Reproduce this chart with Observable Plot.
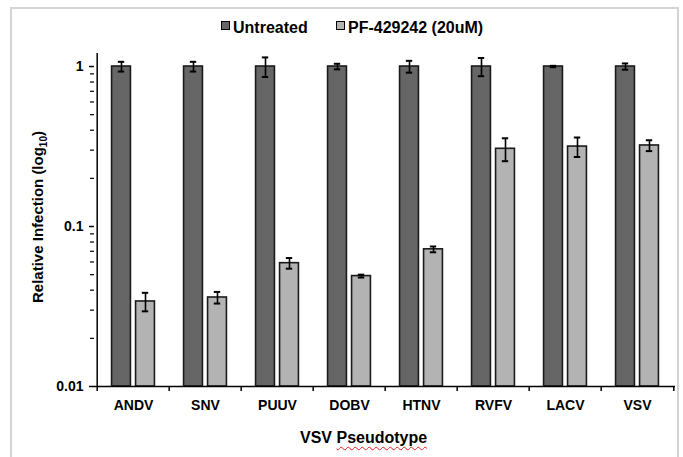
<!DOCTYPE html>
<html><head><meta charset="utf-8">
<script src="https://cdn.jsdelivr.net/npm/d3@7"></script>
<script src="https://cdn.jsdelivr.net/npm/@observablehq/plot@0.6"></script>
<style>
body{margin:0;background:#fff;font-family:"Liberation Sans",Arial,sans-serif;}
#wrap{position:relative;width:683px;height:457px;overflow:hidden;background:#fff;}
#frame{position:absolute;left:10px;top:7px;width:669px;height:480px;border:2px solid #d4d4d4;box-sizing:border-box;pointer-events:none;}
#legend{position:relative;height:44px;font-weight:bold;font-size:16px;color:#000;}
#legend .item{position:absolute;top:19px;display:flex;align-items:center;white-space:nowrap;line-height:18px;}
#legend .sw{width:7px;height:7px;border:1px solid #000;margin-right:3px;margin-top:-5px;}
#xlabel{position:relative;height:33px;font-weight:bold;font-size:16px;text-align:left;}
#xlabel span.t{position:absolute;left:300px;top:5px;white-space:nowrap;}
#xlabel span.w{text-decoration:underline wavy #e02020;text-decoration-thickness:1px;text-underline-offset:3px;}
svg{display:block;}
</style>
</head><body>
<div id="wrap">
<div id="legend"></div>
<div id="chart"></div>
<div id="xlabel"><span class="t">VSV <span class="w">Pseudotype</span></span></div>
<div id="frame"></div>
</div>
<script>
const categories = ["ANDV","SNV","PUUV","DOBV","HTNV","RVFV","LACV","VSV"];
const series = ["Untreated","PF-429242 (20uM)"];
const untreated = [1,1,1,1,1,1,1,1];
const untreatedErr = [0.07,0.07,0.14,0.04,0.085,0.13,0.01,0.045];
const treated = [0.034,0.036,0.059,0.049,0.072,0.306,0.316,0.321];
const treatedErr = [0.0045,0.003,0.0045,0.001,0.003,0.05,0.044,0.025];
const majorTicks = [0.01,0.1,1];
const seriesColors = ["#666666","#b3b3b3"];

const minorTicks = [];
for (const base of [0.01,0.1]) for (let k=2;k<=9;k++) minorTicks.push(+(base*k).toFixed(3));

const rows = [];
categories.forEach((c,i)=>{
  rows.push({cat:c, s:series[0], v:untreated[i], e:untreatedErr[i]});
  rows.push({cat:c, s:series[1], v:treated[i], e:treatedErr[i]});
});
const rowsU = rows.filter(d=>d.s===series[0]);
const rowsT = rows.filter(d=>d.s===series[1]);

const W=683, H=380, mL=94, mR=8, mT=9, mB=38;
const bw = (W-mL-mR)/categories.length;
const half = bw/2;
const off = 12, barW = 19.5;
const inner = half - off - barW/2; // distance from band edge to outer bar edge
const capHalf = 3.5;
const yBase = 0.01, yTop = 1.206;

// legend
const leg = document.getElementById("legend");
[[series[0],seriesColors[0],221],[series[1],seriesColors[1],336]].forEach(([t,c,x])=>{
  const it=document.createElement("div"); it.className="item"; it.style.left=x+"px";
  const sw=document.createElement("div"); sw.className="sw"; sw.style.background=c;
  const tx=document.createElement("span"); tx.textContent=t;
  it.appendChild(sw); it.appendChild(tx); leg.appendChild(it);
});

const barOpts = (dir)=>({
  x:"cat", y1:()=>yBase, y2:"v",
  fill: dir<0?seriesColors[0]:seriesColors[1],
  stroke:"#1a1a1a", strokeWidth:1.6,
  insetLeft: dir<0 ? inner : half+off-barW/2,
  insetRight: dir<0 ? half+off-barW/2 : inner
});
const errRule = (data,dir)=>Plot.ruleX(data,{x:"cat", y1:d=>d.v-d.e, y2:d=>d.v+d.e, dx:dir*off, stroke:"#000", strokeWidth:1.6});
const errCap = (data,dir,fn)=>Plot.tickY(data,{x:"cat", y:fn, dx:dir*off, insetLeft:half-capHalf, insetRight:half-capHalf, stroke:"#000", strokeWidth:2});

const plot = Plot.plot({
  width:W, height:H, marginLeft:mL, marginRight:mR, marginTop:mT, marginBottom:mB,
  style:{fontFamily:'"Liberation Sans",Arial,sans-serif', fontWeight:"bold", fontSize:"14px", color:"#000", background:"transparent"},
  x:{type:"band", domain:categories, padding:0},
  y:{type:"log", domain:[yBase,yTop]},
  marks:[
    Plot.barY(rowsU, barOpts(-1)),
    Plot.barY(rowsT, barOpts(1)),
    errRule(rowsU,-1), errRule(rowsT,1),
    errCap(rowsU,-1,d=>d.v+d.e), errCap(rowsU,-1,d=>d.v-d.e),
    errCap(rowsT,1,d=>d.v+d.e), errCap(rowsT,1,d=>d.v-d.e),
    Plot.ruleY([yBase],{stroke:"#000", strokeWidth:1.5}),
    Plot.ruleX([categories[0]],{x:d=>d, dx:-half, y1:()=>yBase, y2:()=>yTop, stroke:"#000", strokeWidth:1.5}),
    Plot.ruleX(categories,{x:d=>d, dx:-half, y1:()=>yBase, y2:()=>yBase, insetBottom:-5, stroke:"#000", strokeWidth:1.5}),
    Plot.ruleX([categories[categories.length-1]],{x:d=>d, dx:half, y1:()=>yBase, y2:()=>yBase, insetBottom:-5, stroke:"#000", strokeWidth:1.5}),
    Plot.axisY(majorTicks,{tickSize:5, tickPadding:6, tickFormat:d=>String(d), label:null, stroke:"#000", strokeWidth:1.5, fontSize:14, fontWeight:"bold"}),
    Plot.axisY(minorTicks,{tickSize:4, tickFormat:()=>"", label:null, stroke:"#000", strokeWidth:1.2}),
    Plot.axisX({tickSize:0, tickPadding:14, label:null, fontSize:14, fontWeight:"bold"})
  ]
});
document.getElementById("chart").appendChild(plot);

// y axis title with subscript
const svg = d3.select(plot);
const t = svg.append("text")
  .attr("transform","translate(43,173) rotate(-90)")
  .attr("text-anchor","middle")
  .attr("font-size",15).attr("font-weight","bold").attr("fill","#000");
t.append("tspan").text("Relative Infection (log");
t.append("tspan").attr("font-size",10).attr("dy",4).text("10");
t.append("tspan").attr("dy",-4).text(")");
</script>
</body></html>
